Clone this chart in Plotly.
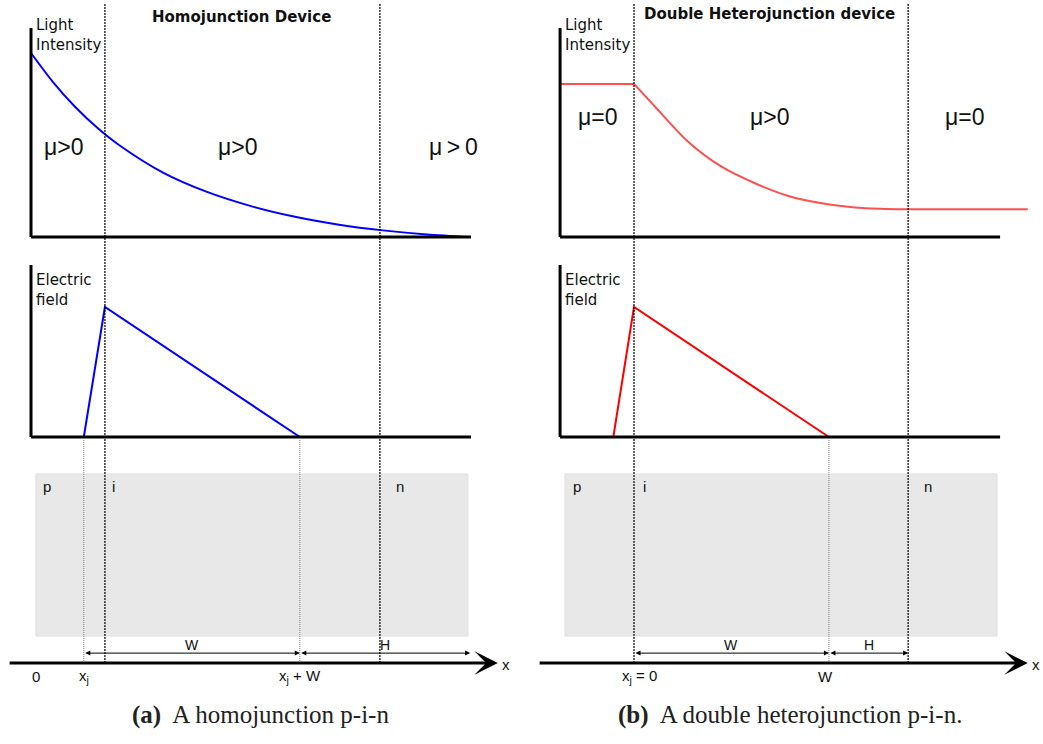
import plotly.graph_objects as go

# ---------------- data (position u along the device, arbitrary units) ----------------
# (a) Homojunction device
homo_x = [0.0, 0.5, 1.0, 1.5, 2.0, 3.0, 4.0, 5.0, 6.0, 7.0, 8.0, 9.0, 10.0]
homo_intensity = [1.0, 0.842, 0.708, 0.595, 0.50, 0.35, 0.245, 0.168, 0.11, 0.067, 0.036, 0.014, 0.0]
homo_field_x = [1.2, 1.68, 6.11]
homo_field = [0.0, 1.0, 0.0]
homo_dashed = [1.68, 7.93]          # p|i and i|n material boundaries
homo_dotted = [1.2, 6.11]           # depletion edges x_j and x_j + W
homo_ticks = [0.12, 1.2, 6.11]
homo_tick_labels = ["0", "x<sub>j</sub>", "x<sub>j</sub> + W"]
homo_mu_x = [0.74, 4.69, 9.61]
homo_mu_labels = ["μ>0", "μ>0", "μ\u2009>\u20090"]

# (b) Double heterojunction device
hetero_p_x = [-1.68, 0.0]
hetero_p_intensity = [0.832, 0.832]
hetero_i_x = [0.0, 0.48, 1.23, 1.99, 2.75, 3.51, 4.27, 5.02, 5.6, 6.23]
hetero_i_intensity = [0.832, 0.708, 0.518, 0.382, 0.292, 0.223, 0.183, 0.161, 0.154, 0.151]
hetero_n_x = [6.23, 8.95]
hetero_n_intensity = [0.151, 0.151]
hetero_field_x = [-0.47, 0.0, 4.43]
hetero_field = [0.0, 1.0, 0.0]
hetero_dashed = [0.0, 6.23]
hetero_dotted = [4.43]
hetero_ticks = [0.12, 4.35]
hetero_tick_labels = ["x<sub>j</sub> = 0", "W"]
hetero_mu_x = [-0.83, 3.08, 7.5]
hetero_mu_labels = ["μ=0", "μ>0", "μ=0"]

region_labels = ["p", "i", "n"]

# ---------------- layout helpers ----------------
W, H = 1043, 744
def pp(py):  # pixel row -> paper y
    return 1 - py / H

SPLIT = 521 / W
ROW1 = [pp(250), 1.0]
ROW2 = [pp(460), pp(250)]
ROW3 = [0.0, pp(460)]

fig = go.Figure()

def add_line(x, y, xa, ya, color, width, shape="linear"):
    fig.add_trace(go.Scatter(x=x, y=y, xaxis=xa, yaxis=ya, mode="lines",
                             line=dict(color=color, width=width, shape=shape, smoothing=0.8),
                             hoverinfo="skip", showlegend=False))

# Light intensity
add_line(homo_x, homo_intensity, "x", "y", "#0000ff", 2, "spline")
add_line(hetero_p_x, hetero_p_intensity, "x2", "y4", "#ff5050", 2)
add_line(hetero_i_x, hetero_i_intensity, "x2", "y4", "#ff5050", 2, "spline")
add_line(hetero_n_x, hetero_n_intensity, "x2", "y4", "#ff5050", 2)
# Electric field
add_line(homo_field_x, homo_field, "x", "y2", "#0000ff", 2)
add_line(hetero_field_x, hetero_field, "x2", "y5", "#ff0000", 2)

shapes = []
annotations = []

def ln(xref, yref, x0, y0, x1, y1, color="black", width=3, dash=None):
    d = dict(type="line", xref=xref, yref=yref, x0=x0, y0=y0, x1=x1, y1=y1,
             line=dict(color=color, width=width))
    if dash:
        d["line"]["dash"] = dash
    shapes.append(d)

def txt(text, xref, yref, x, y, size, family="Liberation Sans", xanchor="center",
        yanchor="middle", align="center", color="#111111"):
    annotations.append(dict(text=text, xref=xref, yref=yref, x=x, y=y, showarrow=False,
                            xanchor=xanchor, yanchor=yanchor, align=align,
                            font=dict(size=size, family=family, color=color)))

def arrow(xref, yref, x_tail, x_head, y, width, head, size, both=False):
    annotations.append(dict(text="", xref=xref, yref=yref, x=x_head, y=y,
                            axref=xref, ayref=yref, ax=x_tail, ay=y,
                            showarrow=True, arrowhead=head, startarrowhead=head,
                            arrowsize=size, startarrowsize=size, arrowwidth=width,
                            arrowcolor="black", standoff=0, startstandoff=0,
                            arrowside="end+start" if both else "end",
                            font=dict(size=1)))

panels = [
    dict(x="x", y1="y", y2="y2", y3="y3", ax0=0.0, ax1=10.0, rect=(0.11, 9.93),
         dashed=homo_dashed, dotted=homo_dotted, ticks=homo_ticks, tick_labels=homo_tick_labels,
         mu_x=homo_mu_x, mu_labels=homo_mu_labels, mu_y=0.489,
         region_x=[0.22, 1.8, 8.25], dims=[(1.2, 6.11, "W"), (6.11, 9.98, "H")],
         axis=(-0.52, 10.61)),
    dict(x="x2", y1="y4", y2="y5", y3="y6", ax0=-1.68, ax1=8.32, rect=(-1.57, 8.25),
         dashed=hetero_dashed, dotted=hetero_dotted, ticks=hetero_ticks, tick_labels=hetero_tick_labels,
         mu_x=hetero_mu_x, mu_labels=hetero_mu_labels, mu_y=0.652,
         region_x=[-1.44, 0.15, 6.55], dims=[(0.0, 4.43, "W"), (4.43, 6.23, "H")],
         axis=(-2.18, 8.95)),
]

for p in panels:
    xr = p["x"]
    # grey device strip
    shapes.append(dict(type="rect", xref=xr, yref=p["y3"], x0=p["rect"][0], x1=p["rect"][1],
                       y0=0.380, y1=0.951, fillcolor="#e8e8e8", line=dict(color="#e2e2e2", width=1),
                       layer="below"))
    # plot axes
    ln(xr, p["y1"], p["ax0"], 0, p["ax0"], 1.136)
    ln(xr, p["y1"], p["ax0"], 0, p["ax1"], 0)
    ln(xr, p["y2"], p["ax0"], 0, p["ax0"], 1.323)
    ln(xr, p["y2"], p["ax0"], 0, p["ax1"], 0)
    # boundaries
    for xv in p["dashed"]:
        ln(xr, "paper", xv, pp(663), xv, pp(3), color="black", width=1.2, dash="2px,1px")
    for xv in p["dotted"]:
        ln(xr, "paper", xv, pp(663), xv, pp(437), color="#808080", width=1, dash="1px,1px")
    # axis labels
    txt("Light<br>Intensity", xr, p["y1"], p["ax0"] + 0.07, 1.10, 15, "DejaVu Sans",
        xanchor="left", align="left")
    txt("Electric<br>field", xr, p["y2"], p["ax0"] + 0.07, 1.127, 15, "DejaVu Sans",
        xanchor="left", align="left")
    # mu labels
    for mx, ml in zip(p["mu_x"], p["mu_labels"]):
        txt(ml, xr, p["y1"], mx, p["mu_y"], 23)
    # region labels
    for rx, rl in zip(p["region_x"], region_labels):
        txt(rl, xr, p["y3"], rx, 0.908, 15, xanchor="left")
    # dimension arrows
    for d0, d1, lab in p["dims"]:
        arrow(xr, p["y3"], d0, d1, 0.320, 1, 2, 1.0, both=True)
        txt(lab, xr, p["y3"], (d0 + d1) / 2, 0.347, 14)
    # x axis arrow
    arrow(xr, p["y3"], p["axis"][0], p["axis"][1], 0.285, 3, 3, 1.3)
    txt("x", xr, p["y3"], p["axis"][1] + 0.05, 0.280, 15, xanchor="left")
    for tx, tl in zip(p["ticks"], p["tick_labels"]):
        txt(tl, xr, p["y3"], tx, 0.236, 15)

# titles
txt("<b>Homojunction Device</b>", "paper", "paper", 241.5 / W, pp(17), 15, "DejaVu Sans")
txt("<b>Double Heterojunction device</b>", "paper", "paper", 769 / W, pp(14), 15, "DejaVu Sans")
# captions
txt("<b>(a)</b>\u00a0 A homojunction p-i-n", "paper", "paper", 260 / W, pp(715), 25,
    "Liberation Serif", color="#222222")
txt("<b>(b)</b>\u00a0 A double heterojunction p-i-n.", "paper", "paper", 790 / W, pp(715), 25,
    "Liberation Serif", color="#222222")

hidden = dict(visible=False, showgrid=False, zeroline=False, fixedrange=True)
fig.update_layout(
    width=W, height=H, margin=dict(l=0, r=0, t=0, b=0),
    paper_bgcolor="white", plot_bgcolor="rgba(0,0,0,0)", showlegend=False,
    xaxis=dict(domain=[0, SPLIT], range=[-31 / 44, 490 / 44], **hidden),
    xaxis2=dict(domain=[SPLIT, 1], range=[-113 / 44, 409 / 44], **hidden),
    yaxis=dict(domain=ROW1, range=[-13 / 184, 237 / 184], anchor="x", **hidden),
    yaxis2=dict(domain=ROW2, range=[-23 / 130, 187 / 130], anchor="x", **hidden),
    yaxis3=dict(domain=ROW3, range=[0, 1], anchor="x", **hidden),
    yaxis4=dict(domain=ROW1, range=[-13 / 184, 237 / 184], anchor="x2", **hidden),
    yaxis5=dict(domain=ROW2, range=[-23 / 130, 187 / 130], anchor="x2", **hidden),
    yaxis6=dict(domain=ROW3, range=[0, 1], anchor="x2", **hidden),
    shapes=shapes, annotations=annotations,
)
fig.write_html(
    "out.html",
    config={"displayModeBar": False, "staticPlot": True},
    post_script="document.body.style.margin='0';document.body.style.padding='0';"
                "document.body.style.overflow='hidden';",
)
